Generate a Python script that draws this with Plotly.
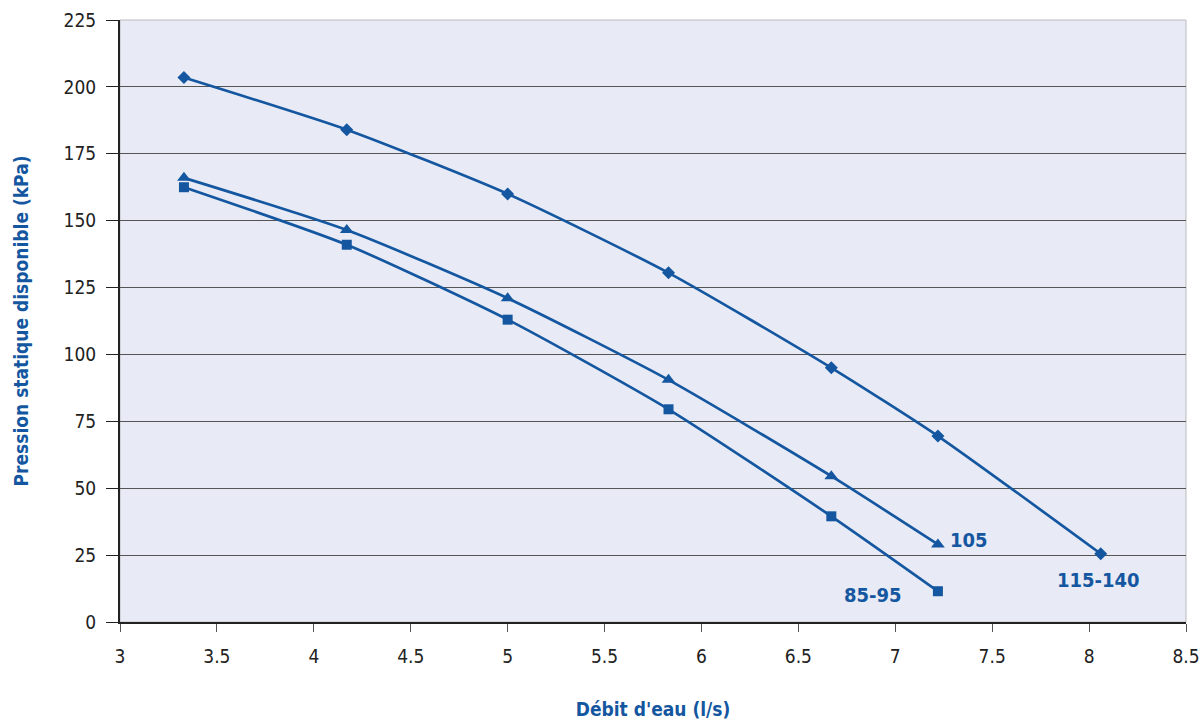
import plotly.graph_objects as go

x_115 = [3.33, 4.17, 5.0, 5.83, 6.67, 7.22, 8.06]
y_115 = [203.5, 184, 160, 130.5, 95, 69.5, 25.5]
x_105 = [3.33, 4.17, 5.0, 5.83, 6.67, 7.22]
y_105 = [166, 146.5, 121, 90.5, 54.5, 29]
x_85 = [3.33, 4.17, 5.0, 5.83, 6.67, 7.22]
y_85 = [162.5, 141, 113, 79.5, 39.5, 11.5]

labels = ["115-140", "105", "85-95"]

C = "#1457A0"
FONT = "DejaVu Sans Condensed, Roboto Condensed, Liberation Sans Narrow, Roboto, Arial"

fig = go.Figure()
for xs, ys, sym, sz in [(x_115, y_115, "diamond", 10), (x_105, y_105, "triangle-up", 12), (x_85, y_85, "square", 10)]:
    fig.add_trace(go.Scatter(x=xs, y=ys, mode="lines+markers",
                             line=dict(color=C, width=2.7, shape="spline", smoothing=0.6),
                             marker=dict(symbol=sym, size=sz, color=C),
                             showlegend=False))

fig.add_annotation(x=x_115[-1], y=y_115[-1], text="<b>" + labels[0] + "</b>", showarrow=False,
                   xshift=-2, yshift=-26, font=dict(size=20, color=C, family=FONT))
fig.add_annotation(x=x_105[-1], y=y_105[-1], text="<b>" + labels[1] + "</b>", showarrow=False,
                   xshift=31, yshift=4, font=dict(size=20, color=C, family=FONT))
fig.add_annotation(x=x_85[-1], y=y_85[-1], text="<b>" + labels[2] + "</b>", showarrow=False,
                   xshift=-65, yshift=-4, font=dict(size=20, color=C, family=FONT))

fig.update_layout(
    width=1201, height=720,
    margin=dict(l=120, r=15, t=20, b=98),
    paper_bgcolor="white", plot_bgcolor="#E8EBF5",
    font=dict(family=FONT, size=19, color="#222222"),
    xaxis=dict(range=[3, 8.5], dtick=0.5, tick0=3, showgrid=False, zeroline=False,
               showline=True, linecolor="#222222", linewidth=2, mirror=False, automargin=False,
               ticks="outside", ticklen=8, tickcolor="#555555", ticklabelstandoff=8,
               title=dict(text="<b>Débit d'eau (l/s)</b>", font=dict(size=19, color=C, family=FONT), standoff=40)),
    yaxis=dict(range=[0, 225], dtick=25, tick0=0, showgrid=True, gridcolor="#555555", gridwidth=1,
               zeroline=False, showline=True, linecolor="#222222", linewidth=2, automargin=False,
               ticks="outside", ticklen=12, tickcolor="#222222", ticklabelstandoff=6,
               title=dict(text="<b>Pression statique disponible (kPa)</b>", font=dict(size=19, color=C, family=FONT), standoff=30)),
)
fig.add_shape(type="rect", xref="paper", yref="paper", x0=0, y0=0, x1=1, y1=1,
              line=dict(color="#BBBBBB", width=1), layer="below")

fig.write_html("out.html", config={"displayModeBar": False},
               post_script="document.body.style.margin='0';document.body.style.overflow='hidden';")
